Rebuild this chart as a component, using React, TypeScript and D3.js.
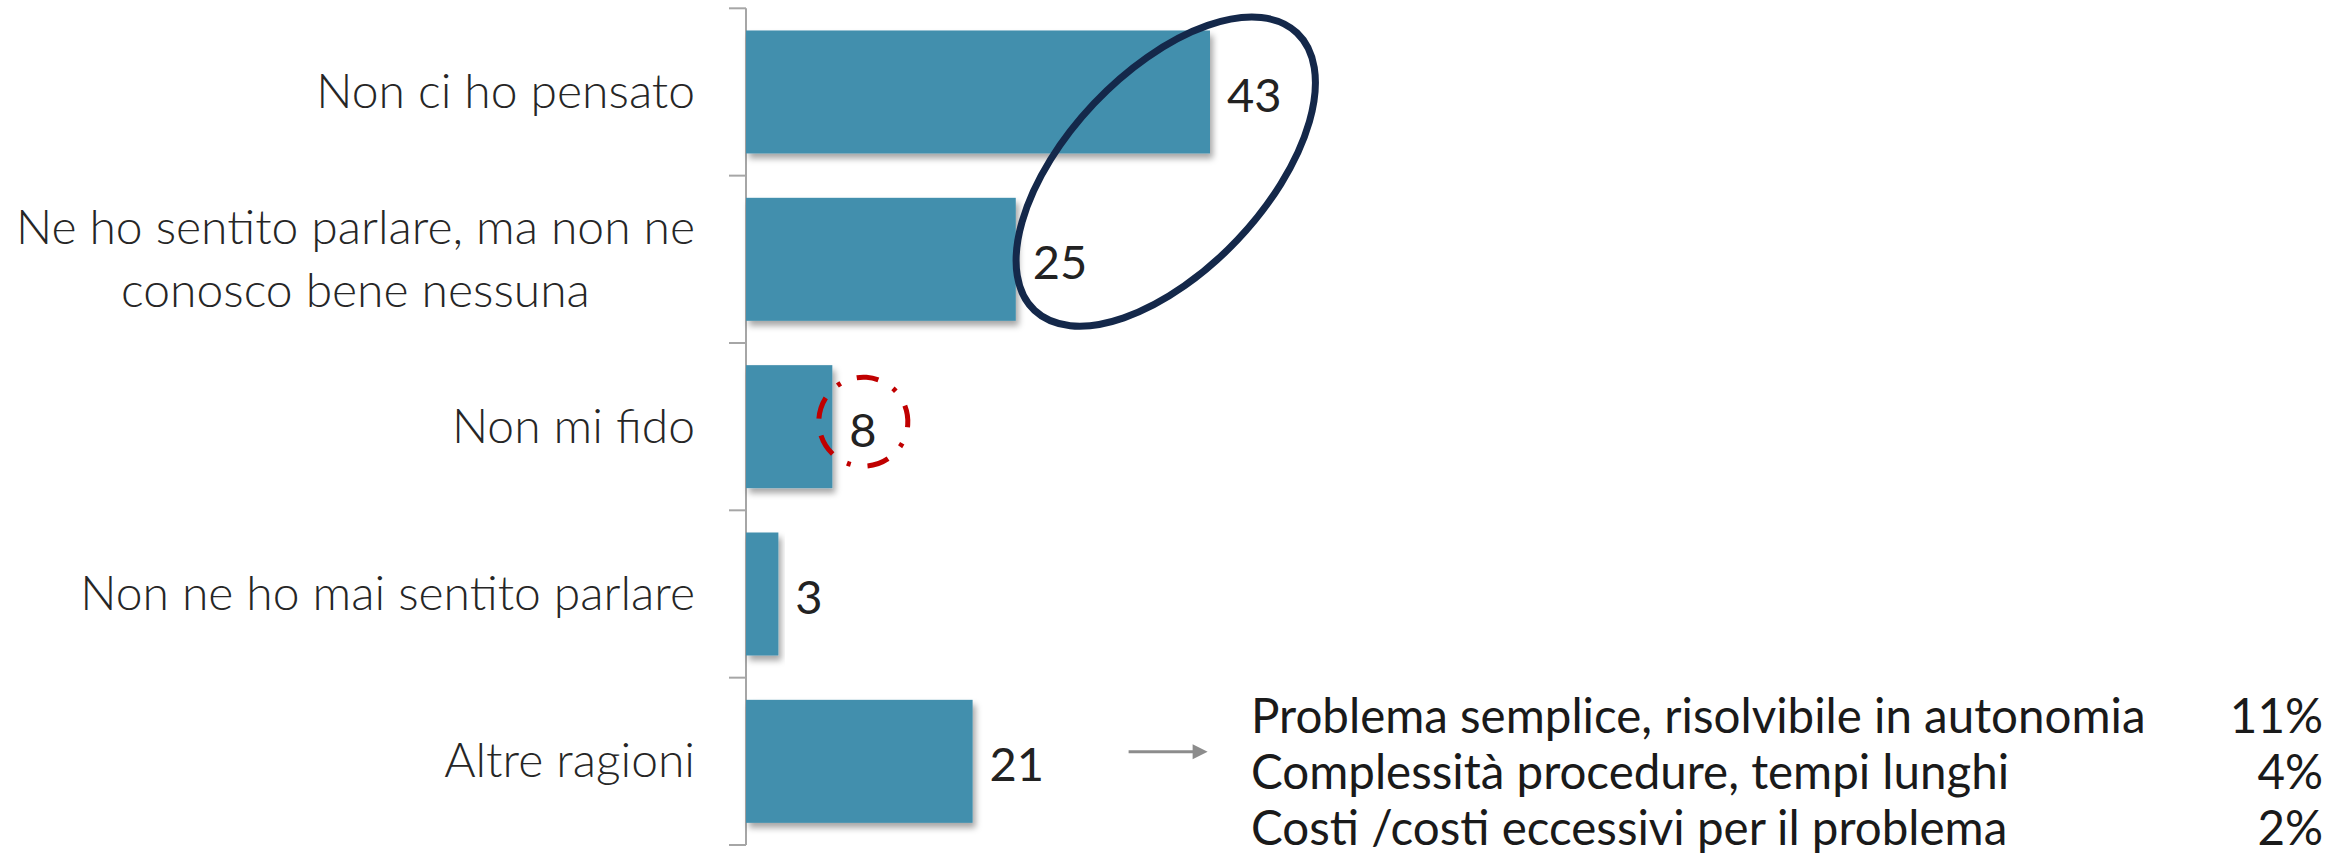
import React, { useEffect, useRef } from "react";
import * as d3 from "d3";

// chart data
const categories = [
  "Non ci ho pensato",
  "Ne ho sentito parlare, ma non ne conosco bene nessuna",
  "Non mi fido",
  "Non ne ho mai sentito parlare",
  "Altre ragioni",
];
const labelLines = [
  ["Non ci ho pensato"],
  ["Ne ho sentito parlare, ma non ne", "conosco bene nessuna"],
  ["Non mi fido"],
  ["Non ne ho mai sentito parlare"],
  ["Altre ragioni"],
];
const values = [43, 25, 8, 3, 21];

// breakdown of "Altre ragioni"
const detailLabels = [
  "Problema semplice, risolvibile in autonomia",
  "Complessità procedure, tempi lunghi",
  "Costi /costi eccessivi per il problema",
];
const detailValues = ["11%", "4%", "2%"];

const W = 2349;
const H = 859;
const FONT = "Lato, 'Open Sans', sans-serif";

const App: React.FC = () => {
  const svgRef = useRef<SVGSVGElement | null>(null);

  useEffect(() => {
    const svg = d3.select(svgRef.current);
    svg.selectAll("*").remove();

    const axisX = 746;
    const top = 8.3;
    const bottom = 845;

    const x = d3.scaleLinear().domain([0, 43]).range([axisX, 1210]);
    const y = d3
      .scaleBand<string>()
      .domain(categories)
      .range([top, bottom])
      .paddingInner(0.265)
      .paddingOuter(0.1325);
    const bw = y.bandwidth();
    const mid = (c: string) => (y(c) as number) + bw / 2;

    const defs = svg.append("defs");
    defs
      .append("filter")
      .attr("id", "shadow")
      .attr("x", "-10%")
      .attr("y", "-10%")
      .attr("width", "130%")
      .attr("height", "130%")
      .append("feDropShadow")
      .attr("dx", 3)
      .attr("dy", 5)
      .attr("stdDeviation", 3)
      .attr("flood-color", "#000")
      .attr("flood-opacity", 0.35);

    // axis line + tick marks between categories
    const g = svg.append("g");
    g.append("line")
      .attr("x1", axisX)
      .attr("x2", axisX)
      .attr("y1", top)
      .attr("y2", bottom)
      .attr("stroke", "#a6a6a6")
      .attr("stroke-width", 2);
    d3.range(categories.length + 1).forEach((i) => {
      const ty = top + i * y.step();
      g.append("line")
        .attr("x1", axisX - 17)
        .attr("x2", axisX)
        .attr("y1", ty)
        .attr("y2", ty)
        .attr("stroke", "#a6a6a6")
        .attr("stroke-width", 2);
    });

    // bars
    svg
      .selectAll("rect.bar")
      .data(values)
      .enter()
      .append("rect")
      .attr("class", "bar")
      .attr("x", x(0))
      .attr("y", (_, i) => y(categories[i]) as number)
      .attr("width", (d) => x(d) - x(0))
      .attr("height", bw)
      .attr("fill", "#428fad")
      .attr("filter", "url(#shadow)");

    // value labels
    svg
      .selectAll("text.val")
      .data(values)
      .enter()
      .append("text")
      .attr("class", "val")
      .attr("x", (d) => x(d) + 17)
      .attr("y", (_, i) => mid(categories[i]) + 20)
      .attr("font-family", FONT)
      .attr("font-size", 47)
      .attr("fill", "#222")
      .text((d) => d);

    // category labels (multi-line ones centred on their longest line)
    const labelRight = axisX - 51;
    const lineH = 63.5;
    labelLines.forEach((lines, i) => {
      const c = mid(categories[i]);
      const t = svg
        .append("text")
        .attr("font-family", FONT)
        .attr("font-weight", 300)
        .attr("font-size", 48)
        .attr("fill", "#262626");
      const spans = lines.map((ln, j) =>
        t
          .append("tspan")
          .attr("y", c + 16 + (j - (lines.length - 1) / 2) * lineH)
          .text(ln)
      );
      const widths = spans.map((s) => (s.node() as SVGTSpanElement).getComputedTextLength());
      const maxW = d3.max(widths) ?? 0;
      if (lines.length === 1) {
        spans[0].attr("x", labelRight).attr("text-anchor", "end");
      } else {
        spans.forEach((s) => s.attr("x", labelRight - maxW / 2).attr("text-anchor", "middle"));
      }
    });

    // navy ellipse round 43 and 25
    const ecx = x(38.9);
    const ecy = (mid(categories[0]) + mid(categories[1])) / 2 - 4;
    svg
      .append("ellipse")
      .attr("cx", 0)
      .attr("cy", 0)
      .attr("rx", 191)
      .attr("ry", 99)
      .attr("transform", `translate(${ecx},${ecy}) rotate(-46.6)`)
      .attr("fill", "none")
      .attr("stroke", "#14284a")
      .attr("stroke-width", 7);

    // red dash-dot circle round 8
    const r = 44.5;
    const a0 = (184 * Math.PI) / 180;
    const p = d3.path();
    const ccx = x(values[2]) + 31;
    const ccy = mid(categories[2]) - 5;
    p.moveTo(ccx + r * Math.cos(a0), ccy + r * Math.sin(a0));
    p.arc(ccx, ccy, r, a0, a0 + Math.PI);
    p.arc(ccx, ccy, r, a0 + Math.PI, a0 + 2 * Math.PI);
    svg
      .append("path")
      .attr("d", p.toString())
      .attr("fill", "none")
      .attr("stroke", "#c00000")
      .attr("stroke-width", 5)
      .attr("stroke-dasharray", "22 17 4 17");

    // arrow to the breakdown
    const ay = mid(categories[4]) - 9.5;
    const ax1 = x(values[4]) + 156;
    const ax2 = ax1 + 65;
    svg
      .append("line")
      .attr("x1", ax1)
      .attr("x2", ax2)
      .attr("y1", ay)
      .attr("y2", ay)
      .attr("stroke", "#8c8c8c")
      .attr("stroke-width", 3);
    svg
      .append("path")
      .attr("d", `M${ax2 - 1},${ay - 7.5}L${ax2 + 14},${ay}L${ax2 - 1},${ay + 7.5}Z`)
      .attr("fill", "#8c8c8c");

    // breakdown rows
    const dx = 1251;
    const dvx = 2323;
    const dy0 = mid(categories[4]) - 28.5;
    detailLabels.forEach((lbl, i) => {
      svg
        .append("text")
        .attr("x", dx)
        .attr("y", dy0 + i * 56)
        .attr("font-family", FONT)
        .attr("font-size", 47.5)
        .attr("fill", "#1a1a1a")
        .text(lbl);
      svg
        .append("text")
        .attr("x", dvx)
        .attr("y", dy0 + i * 56)
        .attr("text-anchor", "end")
        .attr("font-family", FONT)
        .attr("font-size", 47.5)
        .attr("fill", "#1a1a1a")
        .text(detailValues[i]);
    });
  }, []);

  return (
    <svg
      ref={svgRef}
      width={W}
      height={H}
      style={{ position: "absolute", left: 0, top: 0, background: "#fff" }}
    />
  );
};

export default App;
